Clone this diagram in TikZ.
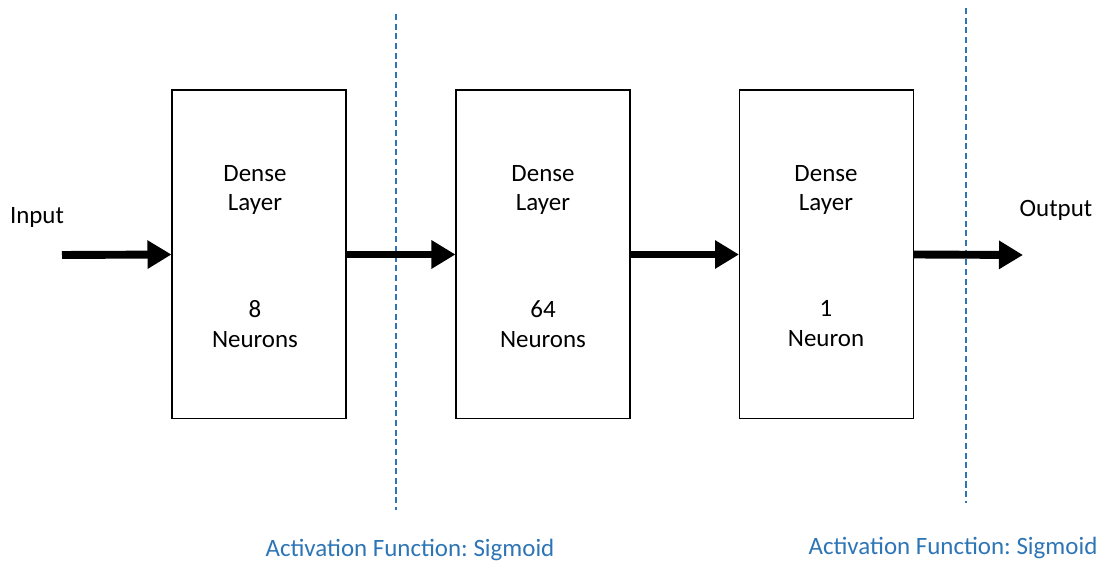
\documentclass[tikz,border=0pt]{standalone}
\usepackage{fontspec}
\setmainfont{Carlito}
\usetikzlibrary{arrows.meta}
\definecolor{actblue}{RGB}{46,117,182}
\frenchspacing
\begin{document}
\begin{tikzpicture}[x=0.02cm, y=-0.02cm,
  every node/.style={font=\fontsize{14.2}{17}\selectfont, align=center},
  layer/.style={draw, line width=0.6pt, minimum width=3.48cm, minimum height=6.58cm, inner sep=0pt},
  flow/.style={line width=4.5pt, -{Triangle[length=0.48cm, width=0.54cm]}},
  actline/.style={actblue, line width=1.1pt, dash pattern=on 3.5pt off 2pt},
  actlabel/.style={text=actblue}]
  \useasboundingbox (0,0) rectangle (1103,563);
  \node[layer] (l1) at (259, 254.5) {};
  \node[layer] (l2) at (543, 254.5) {};
  \node[layer] (l3) at (826.5, 254.5) {};
  \node (t1) at (255, 190) {Dense\\Layer};
  \node (t2) at (543, 190) {Dense\\Layer};
  \node (t3) at (826, 190) {Dense\\Layer};
  \node (n1) at (255, 324) {8\\Neurons};
  \node (n2) at (543, 324) {64\\Neurons};
  \node (n3) at (826, 324) {1\\Neuron};
  \node (in) at (37, 218) {Input};
  \node (out) at (1056, 210) {Output};
  \coordinate (src) at (62, 255);
  \coordinate (dst) at (1023, 255);
  \coordinate (d1top) at (396, 14);
  \coordinate (d1bot) at (396, 510);
  \coordinate (d2top) at (966, 8);
  \coordinate (d2bot) at (966, 503);
  \draw[actline] (d1top) -- (d1bot);
  \draw[actline] (d2top) -- (d2bot);
  \draw[flow] (src) -- (l1.west);
  \draw[flow] (l1.east) -- (l2.west);
  \draw[flow] (l2.east) -- (l3.west);
  \draw[flow] (l3.east) -- (dst);
  \node[actlabel] (a1) at (410, 550) {Activation Function: Sigmoid};
  \node[actlabel] (a2) at (953, 548) {Activation Function: Sigmoid};
\end{tikzpicture}
\end{document}
